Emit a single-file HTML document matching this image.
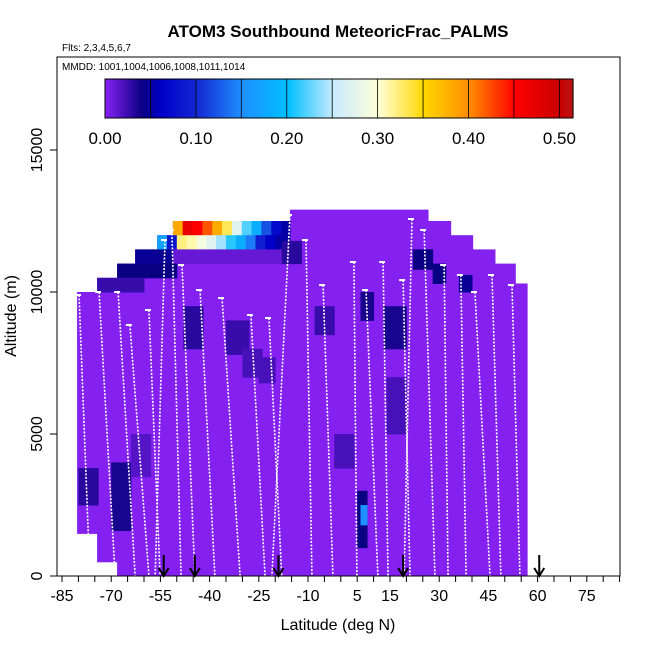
<!DOCTYPE html>
<html><head><meta charset="utf-8"><style>
body{margin:0;background:#fff;}
svg text{font-family:"Liberation Sans",sans-serif;}
</style></head><body>
<svg id="chart" width="650" height="650" viewBox="0 0 650 650">
<text x="338" y="37" text-anchor="middle" font-size="17" font-weight="bold">ATOM3 Southbound MeteoricFrac_PALMS</text>
<text x="62" y="51" font-size="10">Flts: 2,3,4,5,6,7</text>
<g id="cells"></g>
<g id="profiles"></g>
<g id="arrows"></g>
<rect x="57" y="57" width="563" height="519" fill="none" stroke="#000" stroke-width="1"/>
<text x="62" y="70" font-size="10">MMDD: 1001,1004,1006,1008,1011,1014</text>
<g id="cbar"></g>
<g id="xaxis"></g>
<g id="yaxis"></g>
<text x="338" y="630" text-anchor="middle" font-size="16">Latitude (deg N)</text>
<text transform="translate(16,316) rotate(-90)" text-anchor="middle" font-size="16">Altitude (m)</text>
</svg>
<script>
const colLo=[-80.4,-74.3,-68.2,-62.7,-56,-51.2,-15.5,26.6,33.5,40.2,47,53.2];
const colHi=[-74.3,-68.2,-62.7,-56,-51.2,-15.5,26.6,33.5,40.2,47,53.2,56.8];
const colTop=[10000,10500,11000,11500,12000,12500,12900,12500,12000,11500,11000,10300];
const colBot=[1500,500,0,0,0,0,0,0,0,0,0,0];
const rowTopLat=[-51.2,-48.2,-45.2,-42.2,-39.2,-36.2,-33.2,-30.2,-27.2,-24.2,-21.2,-18.2];
const rowTopVal=[0.38,0.47,0.45,0.42,0.38,0.33,0.27,0.22,0.18,0.12,0.07,0.05];
const rowSecLat=[-56,-53,-50,-47,-44,-41,-38,-35,-32,-29,-26,-23,-20];
const rowSecVal=[0.17,0.08,0.32,0.31,0.29,0.27,0.24,0.21,0.18,0.14,0.09,0.06,0.05];
// patches: latLo, latHi, altLo, altHi, value
const patches=[[-62.7,-51.2,11000,11500,0.045],[-51.2,-15.5,11000,11500,0.01],[-68.2,-50,10500,11000,0.04],[-74.3,-60,10000,10500,0.025],
[-80,-74,2500,3800,0.03],[-70,-64,1600,4000,0.035],[-64,-58,3500,5000,0.015],[-48,-42,8000,9500,0.03],[-35,-28,7800,9000,0.025],
[-30,-24,7000,8000,0.02],[-18,-12,11000,11800,0.03],[-8,-2,8500,9500,0.025],[6,10,9000,10000,0.035],[5,8,1000,3000,0.04],[6,8,1800,2500,0.15],
[13,20,8000,9500,0.035],[14,20,5000,7000,0.02],[22,28,10800,11500,0.04],[28,32,10300,11000,0.04],[36,40,10000,10600,0.045],[-2,4,3800,5000,0.02],[-25,-20,6800,7700,0.02]];
const profTopLat=[-79.8,-73.7,-67.9,-64.3,-58.5,-53.6,-51.5,-48.4,-42.9,-36.2,-27.4,-21.9,-15.5,-10.6,-5.4,4,7.7,12.9,19,21.7,25.4,31.5,36.6,40.9,46.1,52.2];
const profTopAlt=[9894,10000,10000,8838,9366,11831,12183,10950,10070,9789,9190,9085,12711,11831,10246,11056,10070,11056,10420,12570,12183,10950,10599,10000,10599,10246];
const profBotLat=[-76.5,-68.8,-62.7,-58.5,-55.1,-56.6,-48.7,-44.5,-38.4,-30.7,-23.1,-18,-21,-8.8,-2.4,4.9,11.3,14.4,21.1,19.3,28.7,32.7,38.2,45.5,48.8,54.6];
const arrowLat=[-54,-44.5,-19,19,60.5];
const xTicks=[-85,-70,-55,-40,-25,-10,5,15,30,45,60,75];
const yTicks=[0,5000,10000,15000];
const cTicks=[0,0.1,0.2,0.3,0.4,0.5];
const NS='http://www.w3.org/2000/svg';
const X=l=>62+(l+85)*3.28, Y=a=>576-a*0.0284;
const stops=[[0,[132,32,240]],[0.04,[10,0,130]],[0.06,[0,0,200]],[0.1,[20,40,210]],[0.15,[30,144,255]],[0.2,[0,191,255]],[0.25,[200,235,255]],[0.3,[255,255,215]],[0.35,[255,215,0]],[0.4,[255,140,0]],[0.45,[255,0,0]],[0.5,[200,0,0]],[0.52,[178,34,34]]];
function col(v){for(let i=1;i<stops.length;i++){if(v<=stops[i][0]){const a=stops[i-1],b=stops[i],t=(v-a[0])/(b[0]-a[0]);return 'rgb('+a[1].map((c,k)=>Math.round(c+(b[1][k]-c)*t)).join(',')+')';}}return 'rgb(178,34,34)';}
function mk(tag,attrs,parent){const e=document.createElementNS(NS,tag);for(const k in attrs)e.setAttribute(k,attrs[k]);parent.appendChild(e);return e;}
const cells=document.getElementById('cells');
function cell(l1,l2,a1,a2,v){const r=mk('rect',{x:X(l1),y:Y(a2),width:X(l2)-X(l1)+0.5,height:Y(a1)-Y(a2)+0.5,fill:col(v)},cells);

}
for(let i=0;i<colLo.length;i++)cell(colLo[i],colHi[i],colBot[i],colTop[i],0);
for(let i=0;i<rowTopLat.length;i++)cell(rowTopLat[i],i+1<rowTopLat.length?rowTopLat[i+1]:-15.5,12000,12500,rowTopVal[i]);
for(let i=0;i<rowSecLat.length;i++)cell(rowSecLat[i],i+1<rowSecLat.length?rowSecLat[i+1]:-15.5,11500,12000,rowSecVal[i]);
patches.forEach(p=>cell(p[0],p[1],p[2],p[3],p[4]));
const prof=document.getElementById('profiles');
for(let i=0;i<profTopLat.length;i++){
const l=mk('line',{x1:X(profTopLat[i]),y1:Y(profTopAlt[i]),x2:X(profBotLat[i]),y2:Y(0),stroke:'#fff','stroke-width':1.6,'stroke-dasharray':'2 1.5'},prof);


const t=mk('line',{x1:X(profTopLat[i])-4,y1:Y(profTopAlt[i]),x2:X(profTopLat[i])+2,y2:Y(profTopAlt[i]),stroke:'#fff','stroke-width':2},prof);

}
const ar=document.getElementById('arrows');
arrowLat.forEach(a=>{const g=mk('g',{},ar);


mk('line',{x1:X(a),y1:555,x2:X(a),y2:576,stroke:'#000','stroke-width':2},g);
mk('path',{d:`M${X(a)-5},568 L${X(a)},576 L${X(a)+5},568`,fill:'none',stroke:'#000','stroke-width':2},g);});
const xa=document.getElementById('xaxis');
for(let l=-85;l<=85;l+=5){mk('line',{x1:X(l),y1:576,x2:X(l),y2:582,stroke:'#000'},xa);}
xTicks.forEach(t=>{const e=mk('text',{x:X(t),y:601,'text-anchor':'middle','font-size':16},xa);e.textContent=t;

});
const ya=document.getElementById('yaxis');
yTicks.forEach(t=>{mk('line',{x1:50,y1:Y(t),x2:57,y2:Y(t),stroke:'#000'},ya);
const e=mk('text',{transform:`translate(42,${Y(t)}) rotate(-90)`,'text-anchor':'middle','font-size':16},ya);e.textContent=t;

});
const cb=document.getElementById('cbar');const cx0=105,cx1=573,cmax=0.515,CX=v=>cx0+v/cmax*(cx1-cx0);
for(let i=0;i<200;i++){const v=i/200*cmax;mk('rect',{x:CX(v),y:79,width:(cx1-cx0)/200+0.6,height:39,fill:col(v)},cb);}
for(let v=0.05;v<0.51;v+=0.05)mk('line',{x1:CX(v),y1:79,x2:CX(v),y2:118,stroke:'#000','stroke-width':0.8},cb);
mk('rect',{x:cx0,y:79,width:cx1-cx0,height:39,fill:'none',stroke:'#000'},cb);
cTicks.forEach(t=>{const e=mk('text',{x:CX(t),y:144,'text-anchor':'middle','font-size':17},cb);e.textContent=t.toFixed(2);

});
</script>
</body></html>
